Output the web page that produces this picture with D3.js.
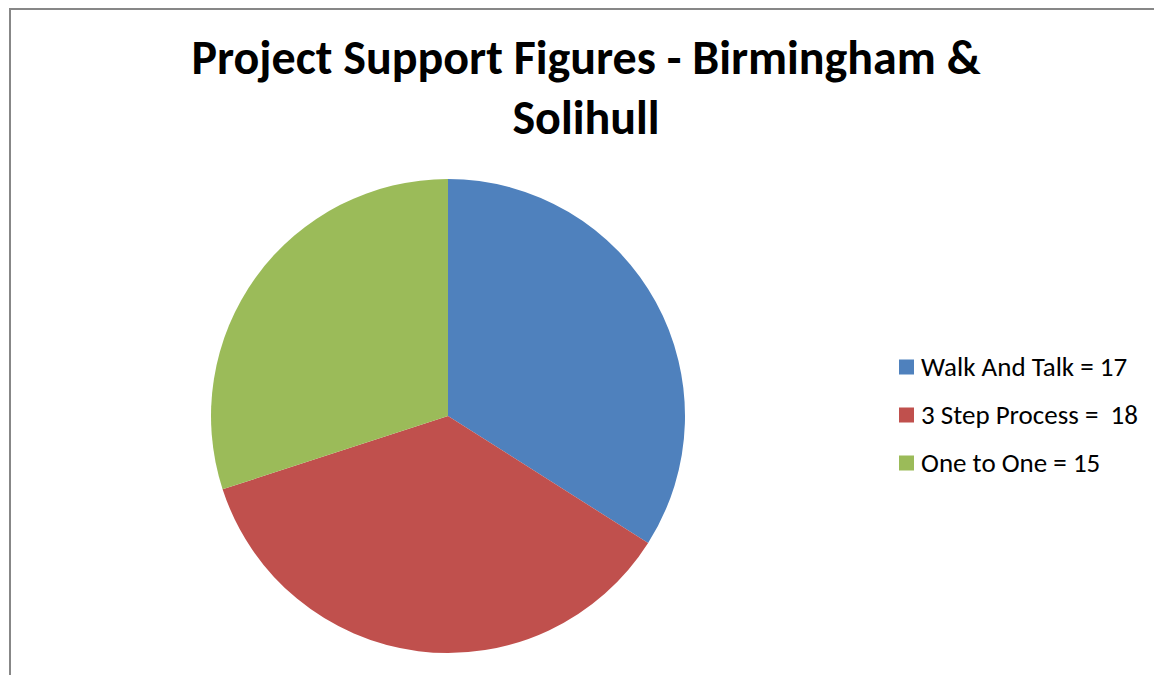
<!DOCTYPE html>
<html>
  <head>
    <meta charset="UTF-8">
    <title>Project Support Figures</title>
    <style>
    body {
      margin: 0;
      background: #fff;
    }
    svg {
      display: block;
    }
    .title {
      font: bold 48px Carlito, Calibri, "Open Sans", sans-serif;
      fill: #000;
    }
    .legend text {
      font: 27px Carlito, Calibri, "Open Sans", sans-serif;
      fill: #000;
      white-space: pre;
    }
    </style>
  </head>
  <body>
    <svg width="1154" height="675"></svg>
    <script src="https://cdnjs.cloudflare.com/ajax/libs/d3/7.8.5/d3.min.js"></script>
    <script>
var categories = ["Walk And Talk", "3 Step Process", "One to One"];
var values = [17, 18, 15];
var legendLabels = ["Walk And Talk = 17", "3 Step Process =  18", "One to One = 15"];
var colors = ["#4F81BD", "#C0504D", "#9BBB59"];
var titleLines = ["Project Support Figures - Birmingham &", "Solihull"];

var svg = d3.select("svg"),
    cx = 448,
    cy = 416,
    radius = 237;

// chart area border (only top and left show in the frame)
svg.append("path")
    .attr("d", "M10,675 V9 H1154")
    .attr("fill", "none")
    .attr("stroke", "#878787")
    .attr("stroke-width", 2);

// title
svg.append("text")
    .attr("class", "title")
    .attr("text-anchor", "middle")
  .selectAll("tspan")
  .data(titleLines)
  .enter().append("tspan")
    .attr("x", 586)
    .attr("y", (d, i) => 74 + i * 60)
    .text(d => d);

var color = d3.scaleOrdinal().domain(categories).range(colors);

var pie = d3.pie().sort(null).value(d => d.value);
var arc = d3.arc().innerRadius(0).outerRadius(radius);

var data = categories.map((c, i) => ({name: c, value: values[i]}));

svg.append("g")
    .attr("transform", "translate(" + cx + "," + cy + ")")
  .selectAll("path")
  .data(pie(data))
  .enter().append("path")
    .attr("d", arc)
    .attr("fill", d => color(d.data.name));

// legend
var legend = svg.append("g")
    .attr("class", "legend")
    .attr("transform", "translate(899,367)");

var item = legend.selectAll("g")
  .data(categories)
  .enter().append("g")
    .attr("transform", (d, i) => "translate(0," + i * 48 + ")");

item.append("rect")
    .attr("x", 0)
    .attr("y", -7.5)
    .attr("width", 15)
    .attr("height", 15)
    .attr("fill", d => color(d));

item.append("text")
    .attr("x", 22)
    .attr("y", 9)
    .text((d, i) => legendLabels[i]);
    </script>
  </body>
</html>
